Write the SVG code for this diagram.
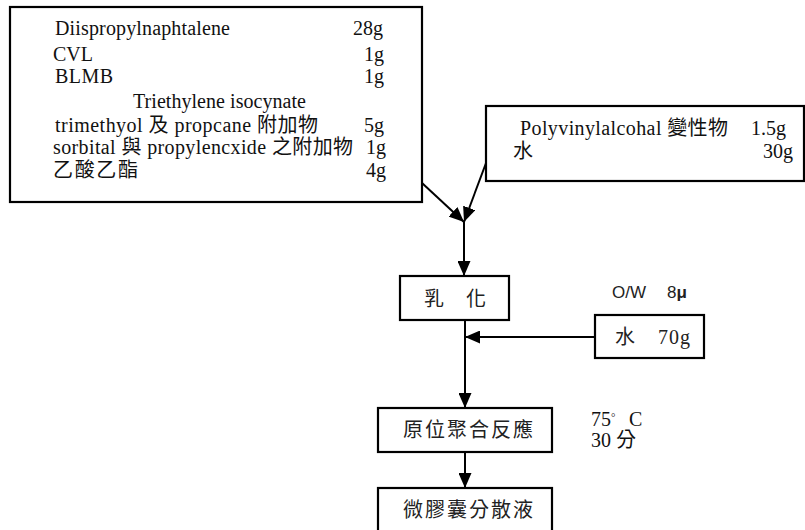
<svg xmlns="http://www.w3.org/2000/svg" width="805" height="530" viewBox="0 0 805 530">
<defs>
<marker id="arr" markerUnits="userSpaceOnUse" markerWidth="15" markerHeight="13" refX="15" refY="6.5" orient="auto">
<path d="M0,0 L15,6.5 L0,13 z" fill="#000"/>
</marker>
<style>
.box{fill:#fff;stroke:#000;stroke-width:2.2}
.t{font-family:"Liberation Serif","Noto Sans CJK TC",serif;font-size:20px;fill:#111}
.c{font-family:"Liberation Serif","Noto Sans CJK TC",serif;font-size:20px;fill:#222}
.s{font-family:"Liberation Sans","Noto Sans CJK TC",sans-serif;font-size:17px;fill:#222}
.e{text-anchor:end}
.ln{stroke:#000;stroke-width:2;fill:none}
</style>
</defs>
<rect width="805" height="530" fill="#fff"/>
<g id="n-materials">
<rect class="box" x="10" y="7" width="412" height="195"/>
<text class="t" x="55" y="35" textLength="175" lengthAdjust="spacing">Diispropylnaphtalene</text>
<text class="t e" x="383" y="35">28g</text>
<text class="t" x="53" y="61" textLength="40" lengthAdjust="spacing">CVL</text>
<text class="t e" x="384" y="61">1g</text>
<text class="t" x="55" y="83" textLength="58" lengthAdjust="spacing">BLMB</text>
<text class="t e" x="384" y="83">1g</text>
<text class="t" x="133" y="108" textLength="173" lengthAdjust="spacing">Triethylene isocynate</text>
<text class="t" x="55" y="132" textLength="263" lengthAdjust="spacing">trimethyol 及 propcane 附加物</text>
<text class="t e" x="384" y="132">5g</text>
<text class="t" x="53" y="154" textLength="300" lengthAdjust="spacing">sorbital 與 propylencxide 之附加物</text>
<text class="t e" x="386" y="154">1g</text>
<text class="t" x="53" y="177" textLength="85" lengthAdjust="spacing">乙酸乙酯</text>
<text class="t e" x="386" y="177">4g</text>
</g>
<g id="n-pva">
<rect class="box" x="486" y="106" width="318" height="75"/>
<text class="t" x="520" y="135" textLength="208" lengthAdjust="spacing">Polyvinylalcohal 變性物</text>
<text class="t e" x="786" y="135">1.5g</text>
<text class="t" x="513" y="158">水</text>
<text class="t e" x="793" y="158">30g</text>
</g>
<g id="n-emulsify">
<rect class="box" x="400" y="276" width="109" height="44"/>
<text class="c" x="424" y="306">乳</text>
<text class="c" x="466" y="306">化</text>
</g>
<g id="n-water">
<rect class="box" x="595" y="315" width="109" height="43"/>
<text class="c" x="615" y="344">水</text>
<text class="c" x="658" y="344" textLength="32" lengthAdjust="spacing">70g</text>
</g>
<g id="n-poly">
<rect class="box" x="378" y="408" width="174" height="44"/>
<text class="c" x="403" y="437" textLength="130" lengthAdjust="spacing">原位聚合反應</text>
</g>
<g id="n-disp">
<rect class="box" x="378" y="488" width="174" height="50"/>
<text class="c" x="403" y="517" textLength="130" lengthAdjust="spacing">微膠囊分散液</text>
</g>
<g id="labels">
<text class="s" x="612" y="298" textLength="34" lengthAdjust="spacingAndGlyphs">O/W</text>
<text class="s" x="667" y="298">8<tspan font-weight="bold">μ</tspan></text>
<text class="t" x="591" y="426" font-size="16">75<tspan dy="-5" font-size="11">°</tspan><tspan dy="5" x="629">C</tspan></text>
<text class="t" x="591" y="447" font-size="16">30 分</text>
</g>
<g id="connectors">
<line class="ln" x1="422" y1="183" x2="464" y2="222" marker-end="url(#arr)"/>
<line class="ln" x1="486" y1="163" x2="464" y2="222" marker-end="url(#arr)"/>
<line class="ln" x1="464" y1="222" x2="464" y2="276" marker-end="url(#arr)"/>
<line class="ln" x1="465" y1="320" x2="465" y2="408" marker-end="url(#arr)"/>
<line class="ln" x1="595" y1="337" x2="465" y2="337" marker-end="url(#arr)"/>
<line class="ln" x1="465" y1="452" x2="465" y2="488" marker-end="url(#arr)"/>
</g>
</svg>
